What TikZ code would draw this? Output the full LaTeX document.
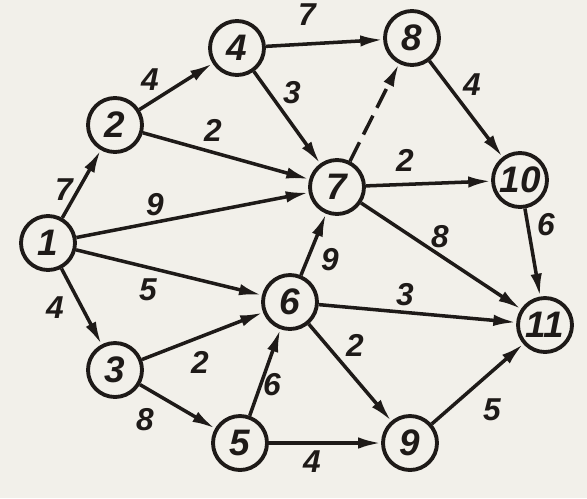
\documentclass[tikz,border=0pt]{standalone}
\usepackage{fontspec}
\setmainfont{Liberation Sans}
\usetikzlibrary{arrows.meta}
\definecolor{paper}{RGB}{242,240,234}
\definecolor{ink}{RGB}{30,26,24}
\begin{document}
\begin{tikzpicture}[x=0.02cm,y=-0.02cm,
  vert/.style={circle,draw=ink,line width=2.2pt,minimum size=1.08cm,inner sep=0pt,fill=paper,
    font=\fontsize{21}{21}\selectfont\bfseries\itshape,text=ink},
  arc/.style={draw=ink,line width=2pt,-{Latex[length=13pt,width=6.5pt]}},
  lab/.style={font=\fontsize{18}{18}\selectfont\bfseries\itshape,text=ink,inner sep=0pt}]
\fill[paper] (0,0) rectangle (587,498);
\useasboundingbox (0,0) rectangle (587,498);
\node[vert] (n1) at (48,243) {1};
\node[vert] (n2) at (115,125) {2};
\node[vert] (n3) at (115,370) {3};
\node[vert] (n4) at (237,48) {4};
\node[vert] (n5) at (240,443) {5};
\node[vert] (n6) at (290,302) {6};
\node[vert] (n7) at (337,187) {7};
\node[vert] (n8) at (412,38) {8};
\node[vert] (n9) at (410,443) {9};
\node[vert] (n10) at (520,180) {10};
\node[vert] (n11) at (545,325) {11};
\draw[arc] (n1) -- (n2);
\draw[arc] (n1) -- (n7);
\draw[arc] (n1) -- (n6);
\draw[arc] (n1) -- (n3);
\draw[arc] (n2) -- (n4);
\draw[arc] (n2) -- (n7);
\draw[arc] (n4) -- (n8);
\draw[arc] (n4) -- (n7);
\draw[arc,dash pattern=on 12pt off 5pt] (n7) -- (n8);
\draw[arc] (n8) -- (n10);
\draw[arc] (n7) -- (n10);
\draw[arc] (n7) -- (n11);
\draw[arc] (n10) -- (n11);
\draw[arc] (n6) -- (n7);
\draw[arc] (n6) -- (n11);
\draw[arc] (n6) -- (n9);
\draw[arc] (n3) -- (n6);
\draw[arc] (n3) -- (n5);
\draw[arc] (n5) -- (n6);
\draw[arc] (n5) -- (n9);
\draw[arc] (n9) -- (n11);
\node[lab] (l12) at (64,190) {7};
\node[lab] (l17) at (155,205) {9};
\node[lab] (l16) at (148,290) {5};
\node[lab] (l13) at (55,308) {4};
\node[lab] (l24) at (150,80) {4};
\node[lab] (l27) at (213,130) {2};
\node[lab] (l48) at (307,15) {7};
\node[lab] (l47) at (292,93) {3};
\node[lab] (l810) at (472,85) {4};
\node[lab] (l710) at (405,160) {2};
\node[lab] (l711) at (440,237) {8};
\node[lab] (l1011) at (546,225) {6};
\node[lab] (l67) at (330,260) {9};
\node[lab] (l611) at (405,295) {3};
\node[lab] (l69) at (355,345) {2};
\node[lab] (l36) at (200,362) {2};
\node[lab] (l35) at (145,420) {8};
\node[lab] (l56) at (272,385) {6};
\node[lab] (l59) at (312,462) {4};
\node[lab] (l911) at (492,410) {5};
\end{tikzpicture}
\end{document}
